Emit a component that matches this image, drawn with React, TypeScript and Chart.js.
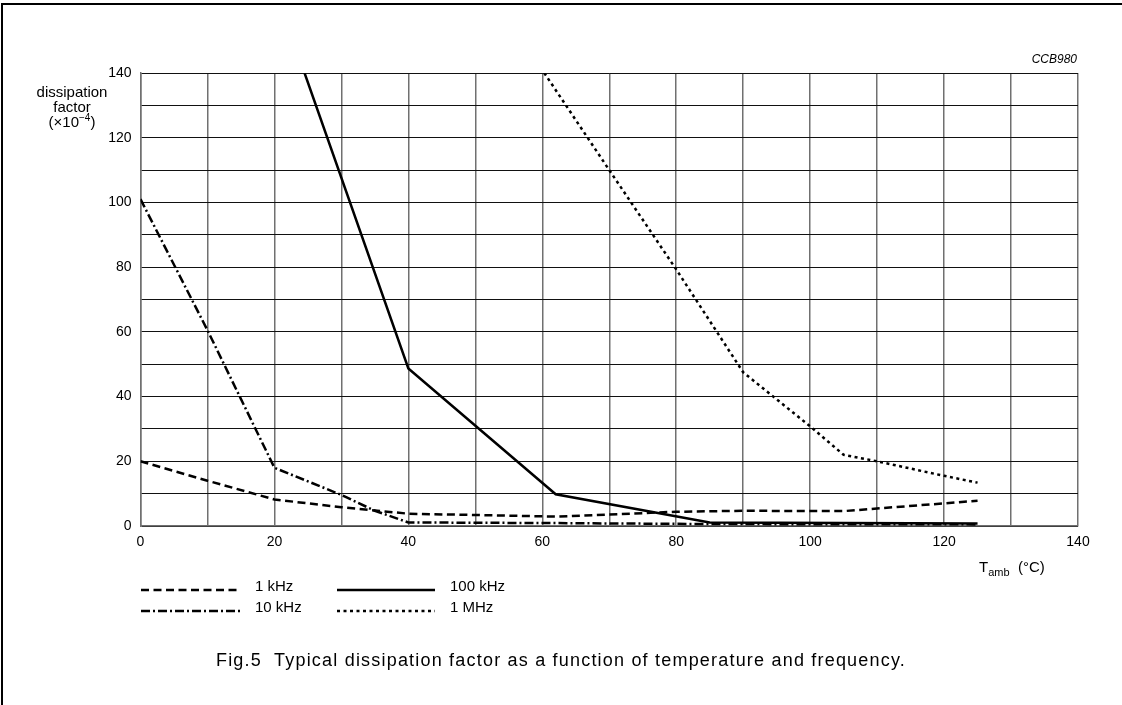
import React, { useEffect, useRef } from "react";
import { Chart, registerables } from "chart.js";

Chart.register(...registerables);

// ---- Data ----
const seriesLabels = ["1 kHz", "10 kHz", "100 kHz", "1 MHz"];

const kHz1Temps = [0, 10, 20, 30, 40, 62, 80, 90, 105, 125];
const kHz1Values = [20, 14, 8.2, 5.8, 3.8, 2.9, 4.4, 4.7, 4.6, 7.8];

const kHz10Temps = [0, 10, 20, 30, 35, 40, 62, 85, 125];
const kHz10Values = [101, 60.5, 18, 9.6, 4.7, 1.1, 0.9, 0.6, 0.5];

const kHz100Temps = [24.5, 40, 62, 85, 125];
const kHz100Values = [140, 48.7, 9.8, 1.1, 0.8];

const MHz1Temps = [60.3, 70, 80, 90, 100, 105, 110, 120, 125];
const MHz1Values = [140, 110, 79.3, 47.5, 30.8, 22, 20, 15.5, 13.4];

const xTickLabels = [0, 20, 40, 60, 80, 100, 120, 140];
const yTickLabels = [0, 20, 40, 60, 80, 100, 120, 140];

const dashes: number[][] = [[8, 4.5], [9, 3, 2, 3], [], [3, 3.5]];

const FONT = "'Liberation Sans', Arial, sans-serif";

const toPoints = (xs: number[], ys: number[]) => xs.map((x, i) => ({ x, y: ys[i] }));

const legendPlugin = {
  id: "customLegend",
  afterDraw(chart: any) {
    const ctx = chart.ctx;
    const rows = [
      { ds: 0, x0: 141, x1: 240, tx: 255, y: 590 },
      { ds: 1, x0: 141, x1: 240, tx: 255, y: 611 },
      { ds: 2, x0: 337, x1: 435, tx: 450, y: 590 },
      { ds: 3, x0: 337, x1: 435, tx: 450, y: 611 },
    ];
    ctx.save();
    rows.forEach((r) => {
      const ds = chart.data.datasets[r.ds];
      ctx.beginPath();
      ctx.setLineDash(ds.borderDash || []);
      ctx.lineWidth = ds.borderWidth;
      ctx.strokeStyle = ds.borderColor;
      ctx.lineCap = "butt";
      ctx.moveTo(r.x0, r.y);
      ctx.lineTo(r.x1, r.y);
      ctx.stroke();
      ctx.setLineDash([]);
      ctx.fillStyle = "#000";
      ctx.font = `15px ${FONT}`;
      ctx.textBaseline = "middle";
      ctx.textAlign = "left";
      ctx.fillText(ds.label, r.tx, r.y - 3);
    });
    ctx.restore();
  },
};

export default function App() {
  const canvasRef = useRef<HTMLCanvasElement | null>(null);

  useEffect(() => {
    if (!canvasRef.current) return;
    const seriesPoints = [
      toPoints(kHz1Temps, kHz1Values),
      toPoints(kHz10Temps, kHz10Values),
      toPoints(kHz100Temps, kHz100Values),
      toPoints(MHz1Temps, MHz1Values),
    ];
    const chart = new Chart(canvasRef.current, {
      type: "line",
      data: {
        datasets: seriesPoints.map((pts, i) => ({
          label: seriesLabels[i],
          data: pts,
          borderColor: "#000",
          borderWidth: 2.5,
          borderDash: dashes[i],
          borderCapStyle: "butt",
          pointRadius: 0,
          tension: 0,
          fill: false,
        })),
      },
      options: {
        responsive: false,
        animation: false,
        devicePixelRatio: 1,
        layout: { padding: { left: 0, top: 73, right: 44, bottom: 0 } },
        plugins: { legend: { display: false }, tooltip: { enabled: false } },
        scales: {
          x: {
            type: "linear",
            min: 0,
            max: 140,
            afterFit: (s: any) => {
              s.height = 179;
            },
            ticks: {
              stepSize: 10,
              autoSkip: false,
              maxRotation: 0,
              padding: 8,
              color: "#000",
              font: { family: FONT, size: 14 },
              callback: (v: any) => (xTickLabels.includes(Number(v)) ? String(v) : ""),
            },
            grid: { color: "#707070", lineWidth: 1.5, drawTicks: false },
            border: { color: "#707070", width: 1.5 },
          },
          y: {
            type: "linear",
            min: 0,
            max: 140,
            afterFit: (s: any) => {
              s.width = 140.5;
            },
            ticks: {
              stepSize: 10,
              autoSkip: false,
              padding: 9,
              color: "#000",
              font: { family: FONT, size: 14 },
              callback: (v: any) => (yTickLabels.includes(Number(v)) ? String(v) : ""),
            },
            grid: { color: "#111", lineWidth: 1, drawTicks: false },
            border: { color: "#707070", width: 1.5 },
          },
        },
      },
      plugins: [legendPlugin],
    } as any);
    return () => chart.destroy();
  }, []);

  return (
    <div
      style={{
        position: "absolute",
        left: 0,
        top: 0,
        width: 1122,
        height: 705,
        overflow: "hidden",
        background: "#fff",
        fontFamily: FONT,
        color: "#000",
      }}
    >
      <div
        style={{
          position: "absolute",
          left: 1,
          top: 3,
          width: 1300,
          height: 900,
          borderTop: "2px solid #000",
          borderLeft: "2px solid #000",
        }}
      />
      <canvas
        ref={canvasRef}
        width={1122}
        height={705}
        style={{ position: "absolute", left: 0, top: 0, width: 1122, height: 705 }}
      />
      <div
        style={{
          position: "absolute",
          left: 12,
          top: 84,
          width: 120,
          textAlign: "center",
          fontSize: 15,
          lineHeight: "15px",
        }}
      >
        <div>dissipation</div>
        <div>factor</div>
        <div>
          (×10<span style={{ fontSize: 10, position: "relative", top: -6 }}>−4</span>)
        </div>
      </div>
      <div
        style={{
          position: "absolute",
          right: 1122 - 1077,
          top: 52,
          fontSize: 12,
          fontStyle: "italic",
          lineHeight: "14px",
        }}
      >
        CCB980
      </div>
      <div
        style={{
          position: "absolute",
          left: 979,
          top: 558,
          fontSize: 15,
          lineHeight: "18px",
          whiteSpace: "pre",
        }}
      >
        T<span style={{ fontSize: 11, position: "relative", top: 4 }}>amb</span>
        {"  (°C)"}
      </div>
      <div
        style={{
          position: "absolute",
          left: 0,
          width: 1122,
          top: 649,
          textAlign: "center",
          fontSize: 18,
          letterSpacing: "1.2px",
          lineHeight: "22px",
          whiteSpace: "pre",
        }}
      >
        {"Fig.5  Typical dissipation factor as a function of temperature and frequency."}
      </div>
    </div>
  );
}
